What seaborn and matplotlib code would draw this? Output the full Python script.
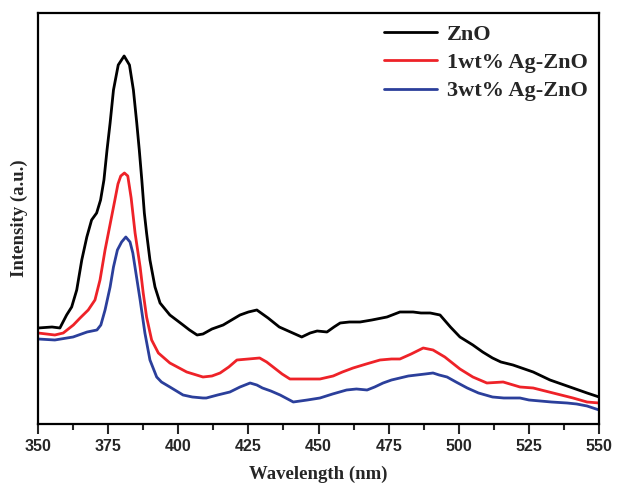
import numpy as np
import pandas as pd
import matplotlib
matplotlib.use("Agg")
import matplotlib.pyplot as plt
import seaborn as sns
from matplotlib.ticker import MultipleLocator

# PL spectra (intensity in arbitrary units)
wl_zno = [350, 355, 357.8, 360.2, 362, 363.8, 365.6, 367.4, 369.1, 370.9, 372.3, 373.5,
          374.6, 375.7, 376.9, 378.6, 380.7, 382.6, 384, 385.2, 386.1, 387, 387.9, 388.7,
          389.9, 391.7, 393.5, 397, 401.7, 404, 406.7, 408.8, 412,
          416, 419, 422, 425, 428, 432, 436, 440, 444, 447, 449.5, 453, 455.5, 457.7, 461,
          464.8, 469, 474.4, 479, 483.7, 486.5, 489.8, 493.3, 497, 500.4, 505, 508.5, 512,
          515, 519.3, 526.5, 532.5, 538.6, 545.7, 550]
int_zno = [96, 97, 96, 109, 117, 134, 164, 187, 204, 211, 224, 244,
           274, 301, 334, 359, 368, 359, 334, 301, 274, 244, 211, 191,
           164, 137, 121, 109, 99, 94, 89, 90, 95,
           99, 104, 109, 112, 114, 106, 97, 92, 87, 91, 93, 92, 97, 101, 102,
           102, 104, 107, 112, 112, 111, 111, 109, 97, 87, 79, 72, 66,
           62, 59, 52, 44, 38, 31, 27]

wl_ag1 = [350, 356, 359, 362.6, 365, 367.9, 370.3, 372.1, 373.9, 376, 377.4, 378.5, 379.5,
          380.8, 382, 383.2, 384.6, 386.4, 387.5, 388.7, 390.5, 392.9, 397, 403, 408.8,
          412, 414.9, 418, 420.9,
          425, 429, 431.5, 433.8, 437, 439.8, 445, 450.5, 455.2, 458.5, 462.3, 467, 471.9,
          476, 479, 483, 487.3, 490.8, 495, 500.4, 505, 510, 515.8, 521.8, 526.5, 533.6,
          540.7, 545.7, 550]
int_ag1 = [91, 89, 91, 99, 106, 114, 124, 144, 174, 204, 224, 240, 248,
           251, 248, 226, 191, 157, 131, 107, 84, 71, 61, 52, 47,
           48, 51, 57, 64,
           65, 66, 62, 57, 50, 45, 45, 45, 48, 52, 56, 60, 64,
           65, 65, 70, 76, 74, 67, 55, 47, 41, 42, 37, 36, 31,
           26, 22, 21]

wl_ag3 = [350, 356, 362.5, 367.5, 371, 372.4, 373.9, 375.7, 376.9, 378.3, 379.8, 381.3,
          382.8, 383.8, 384.9, 386.4, 388.1, 389.9, 392.3, 394, 397, 401.7, 405, 408.8,
          410, 414, 418.4, 422, 425.6,
          428, 430, 433, 436.3, 441, 446, 450.5, 455, 460, 463.5, 467.3, 470, 473, 476,
          479, 482, 485, 488, 490.8, 493, 495.8, 499, 503, 507, 512, 516, 521.8, 525,
          529, 533, 538.6, 542, 545.7, 550]
int_ag3 = [85, 84, 87, 92, 94, 99, 114, 137, 157, 174, 182, 187,
           182, 171, 151, 124, 91, 64, 47, 42, 37, 29, 27, 26,
           26, 29, 32, 37, 41,
           39, 36, 33, 29, 22, 24, 26, 30, 34, 35, 34, 37, 41, 44,
           46, 48, 49, 50, 51, 49, 47, 42, 36, 31, 27, 26, 26, 24,
           23, 22, 21, 20, 18, 14]

names = ["ZnO", "1wt% Ag-ZnO", "3wt% Ag-ZnO"]
colors = ["#000000", "#EE2228", "#2B3F9B"]

df = pd.concat([
    pd.DataFrame({"wl": wl_zno, "I": int_zno, "sample": names[0]}),
    pd.DataFrame({"wl": wl_ag1, "I": int_ag1, "sample": names[1]}),
    pd.DataFrame({"wl": wl_ag3, "I": int_ag3, "sample": names[2]}),
])

sns.set_style("white")
fig = plt.figure(figsize=(6.17, 4.90), dpi=100)
ax = fig.add_axes([0.0616, 0.1347, 0.9094, 0.8388])

sns.lineplot(data=df, x="wl", y="I", hue="sample", hue_order=names,
             palette=dict(zip(names, colors)), linewidth=2.0, sort=False,
             estimator=None, ax=ax)

ax.set_xlim(350, 550)
ax.set_ylim(0, 411)
ax.xaxis.set_major_locator(MultipleLocator(25))
ax.xaxis.set_minor_locator(MultipleLocator(12.5))
ax.set_yticks([])
ax.tick_params(axis="x", which="major", direction="out", length=7, width=1.5,
               bottom=True, pad=4)
ax.tick_params(axis="x", which="minor", direction="out", length=4, width=1.5,
               bottom=True)
for lab in ax.get_xticklabels():
    lab.set_fontfamily("Liberation Sans")
    lab.set_fontweight("bold")
    lab.set_fontsize(11.5)
for sp in ax.spines.values():
    sp.set_visible(True)
    sp.set_color("black")
    sp.set_linewidth(1.6)

ax.set_xlabel("Wavelength (nm)", fontfamily="Liberation Serif", fontweight="bold",
              fontsize=13.5, labelpad=8)
ax.set_ylabel("Intensity (a.u.)", fontfamily="Liberation Serif", fontweight="bold",
              fontsize=13.5, labelpad=7)

ax.legend(loc="upper right", frameon=False, handlelength=2.4, handletextpad=0.45,
          labelspacing=0.35, borderaxespad=0.2, borderpad=0.3,
          prop={"family": "Liberation Serif", "weight": "bold", "size": 16})

fig.savefig("out.png", dpi=100)
